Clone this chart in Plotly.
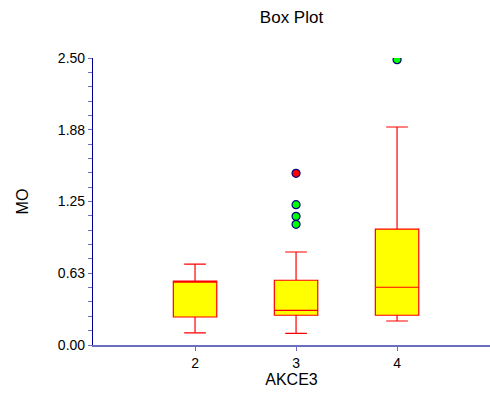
import plotly.graph_objects as go

groups = [2, 3, 4]
q1 = [0.244, 0.259, 0.259]
median = [0.557, 0.302, 0.503]
q3 = [0.557, 0.564, 1.010]
lower = [0.105, 0.102, 0.209]
upper = [0.705, 0.810, 1.899]

out_green_x = [3, 3, 3, 4]
out_green_y = [1.222, 1.121, 1.051, 2.485]
out_red_x = [3]
out_red_y = [1.495]

y_ticks = [0, 0.625, 1.25, 1.875, 2.5]
y_ticktext = ["0.00", "0.63", "1.25", "1.88", "2.50"]

fig = go.Figure()
fig.add_trace(go.Box(
    x=groups, q1=q1, median=median, q3=q3,
    lowerfence=lower, upperfence=upper,
    boxpoints=False, width=0.43, whiskerwidth=0.5,
    fillcolor="#ffff00", line=dict(color="#ff0000", width=1.2),
    showlegend=False,
))
fig.add_trace(go.Scatter(
    x=out_green_x, y=out_green_y, mode="markers",
    marker=dict(color="#00ff00", size=8, line=dict(color="#000080", width=1.2)),
    showlegend=False,
))
fig.add_trace(go.Scatter(
    x=out_red_x, y=out_red_y, mode="markers",
    marker=dict(color="#ff0000", size=8, line=dict(color="#000080", width=1.2)),
    showlegend=False,
))

fig.update_layout(
    width=490, height=393,
    margin=dict(l=93, r=0, t=58, b=48),
    paper_bgcolor="white", plot_bgcolor="white",
    font=dict(family="Liberation Sans, Arial, sans-serif", color="#000000", size=14),
    title=dict(text="Box Plot", xref="paper", x=0.5, xanchor="center",
               y=0.957, yanchor="middle", font=dict(size=17)),
    xaxis=dict(
        range=[0.99, 4.92], tickvals=groups, ticktext=[str(g) for g in groups],
        showgrid=False, zeroline=False, showline=True, linecolor="#6c6cc0", linewidth=1.5,
        ticks="outside", ticklen=4, tickcolor="#6c6cc0",
        title=dict(text="AKCE3", font=dict(size=16), standoff=4),
        tickfont=dict(size=14), automargin=False,
    ),
    yaxis=dict(
        range=[0, 2.5], tickvals=y_ticks, ticktext=y_ticktext,
        showgrid=False, zeroline=False, showline=True, linecolor="#000090", linewidth=1.2,
        ticks="outside", ticklen=4, tickcolor="#6c6cc0",
        minor=dict(dtick=0.125, ticks="outside", ticklen=4, tickcolor="#6c6cc0", showgrid=False),
        title=dict(text="MO", font=dict(size=16), standoff=25),
        tickfont=dict(size=14), automargin=False,
    ),
)

fig.write_html("out.html")
